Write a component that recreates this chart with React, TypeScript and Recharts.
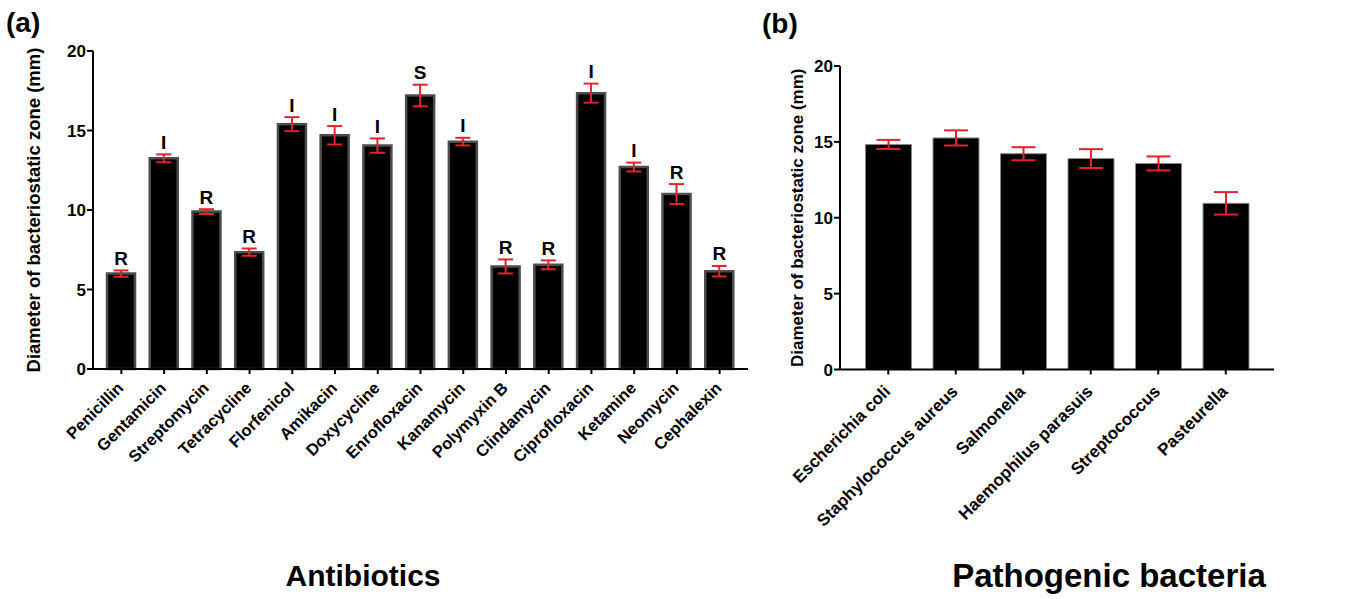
import { Bar, BarChart, ErrorBar, LabelList, XAxis, YAxis } from "recharts"

const antibiotics = [
  "Penicillin",
  "Gentamicin",
  "Streptomycin",
  "Tetracycline",
  "Florfenicol",
  "Amikacin",
  "Doxycycline",
  "Enrofloxacin",
  "Kanamycin",
  "Polymyxin B",
  "Clindamycin",
  "Ciprofloxacin",
  "Ketamine",
  "Neomycin",
  "Cephalexin"
]
const antibioticMeans = [6.0, 13.25, 9.9, 7.35, 15.4, 14.7, 14.05, 17.2, 14.3, 6.45, 6.55, 17.35, 12.7, 11.0, 6.15]
const antibioticErrors = [0.2, 0.25, 0.15, 0.23, 0.44, 0.58, 0.45, 0.68, 0.24, 0.44, 0.28, 0.6, 0.28, 0.63, 0.33]
const antibioticGrades = ["R", "I", "R", "R", "I", "I", "I", "S", "I", "R", "R", "I", "I", "R", "R"]

const bacteria = [
  "Escherichia coli",
  "Staphylococcus aureus",
  "Salmonella",
  "Haemophilus parasuis",
  "Streptococcus",
  "Pasteurella"
]
const bacteriaMeans = [14.83, 15.26, 14.22, 13.9, 13.58, 10.95]
const bacteriaErrors = [0.3, 0.5, 0.43, 0.62, 0.46, 0.74]

const yTicks = [0, 5, 10, 15, 20]

const FONT = "'Liberation Sans', Arial, sans-serif"
const RED = "#e8202a"

const antibioticData = antibiotics.map((name, i) => ({
  name,
  value: antibioticMeans[i],
  err: antibioticErrors[i],
  grade: antibioticGrades[i]
}))

const bacteriaData = bacteria.map((name, i) => ({
  name,
  value: bacteriaMeans[i],
  err: bacteriaErrors[i]
}))

type TickProps = {
  x?: number
  y?: number
  payload?: { value: string }
}

// slanted category labels, end of the text sits under the tick
function makeSlantTick(fontSize: number, dy: number) {
  return function SlantTick({ x = 0, y = 0, payload }: TickProps) {
    const tx = x + 3
    const ty = y + dy
    return (
      <text
        x={tx}
        y={ty}
        transform={`rotate(-45, ${tx}, ${ty})`}
        textAnchor="end"
        fontFamily={FONT}
        fontWeight="bold"
        fontSize={fontSize}
        fill="#000"
      >
        {payload?.value}
      </text>
    )
  }
}

type LabelBox = {
  viewBox?: { x: number; y: number; width: number; height: number }
}

function makeYLabel(offset: number, fontSize: number) {
  return function YLabel({ viewBox }: LabelBox) {
    if (!viewBox) return null
    const cx = viewBox.x + offset
    const cy = viewBox.y + viewBox.height / 2
    return (
      <text
        x={cx}
        y={cy}
        transform={`rotate(-90, ${cx}, ${cy})`}
        textAnchor="middle"
        fontFamily={FONT}
        fontWeight="bold"
        fontSize={fontSize}
        fill="#000"
      >
        Diameter of bacteriostatic zone (mm)
      </text>
    )
  }
}

type GradeProps = {
  x?: number
  y?: number
  width?: number
  height?: number
  value?: string
  index?: number
}

// R / I / S letter just above the error bar cap
function GradeLabel({ x = 0, y = 0, width = 0, height = 0, value, index = 0 }: GradeProps) {
  const errPx = (antibioticErrors[index] * height) / antibioticMeans[index]
  return (
    <text
      x={x + width / 2}
      y={y - errPx - 5.5}
      textAnchor="middle"
      fontFamily={FONT}
      fontWeight="bold"
      fontSize={19}
      fill="#000"
    >
      {value}
    </text>
  )
}

const tickStyle = { fill: "#000", fontSize: 17, fontWeight: "bold", fontFamily: FONT }

export default function App() {
  return (
    <div style={{ position: "absolute", left: 0, top: 0, width: 1357, height: 599, background: "#fff" }}>
      <div style={{ position: "absolute", left: 0, top: 0 }}>
        <BarChart
          width={760}
          height={599}
          data={antibioticData}
          margin={{ top: 51, right: 12, bottom: 200, left: 0 }}
        >
          <XAxis
            dataKey="name"
            interval={0}
            padding={{ left: 7, right: 7 }}
            height={30}
            tickSize={5}
            tickMargin={2}
            axisLine={{ stroke: "#000", strokeWidth: 2 }}
            tickLine={{ stroke: "#000", strokeWidth: 2 }}
            tick={makeSlantTick(16.5, 13)}
          />
          <YAxis
            width={93}
            domain={[0, 20]}
            ticks={yTicks}
            tickSize={6}
            tickMargin={1}
            axisLine={{ stroke: "#000", strokeWidth: 2 }}
            tickLine={{ stroke: "#000", strokeWidth: 2 }}
            tick={tickStyle}
            label={{ content: makeYLabel(40, 18.5) }}
          />
          <Bar
            dataKey="value"
            fill="#000"
            stroke="#4d4d4d"
            strokeWidth={2.5}
            barSize={28}
            isAnimationActive={false}
          >
            <ErrorBar dataKey="err" width={7.5} stroke={RED} strokeWidth={2} direction="y" />
            <LabelList dataKey="grade" content={GradeLabel} />
          </Bar>
        </BarChart>
      </div>
      <div style={{ position: "absolute", left: 760, top: 0 }}>
        <BarChart
          width={597}
          height={599}
          data={bacteriaData}
          margin={{ top: 66, right: 83, bottom: 199.5, left: 0 }}
        >
          <XAxis
            dataKey="name"
            interval={0}
            padding={{ left: 14.5, right: 14.5 }}
            height={30}
            tickSize={5}
            tickMargin={2}
            axisLine={{ stroke: "#000", strokeWidth: 2 }}
            tickLine={{ stroke: "#000", strokeWidth: 2 }}
            tick={makeSlantTick(17, 16)}
          />
          <YAxis
            width={80}
            domain={[0, 20]}
            ticks={yTicks}
            tickSize={6}
            tickMargin={1}
            axisLine={{ stroke: "#000", strokeWidth: 2 }}
            tickLine={{ stroke: "#000", strokeWidth: 2 }}
            tick={tickStyle}
            label={{ content: makeYLabel(43, 17) }}
          />
          <Bar
            dataKey="value"
            fill="#000"
            stroke="#8a8a8a"
            strokeWidth={1}
            barSize={46}
            isAnimationActive={false}
          >
            <ErrorBar dataKey="err" width={12} stroke={RED} strokeWidth={2} direction="y" />
          </Bar>
        </BarChart>
      </div>
      <svg
        width={1357}
        height={599}
        style={{ position: "absolute", left: 0, top: 0, pointerEvents: "none" }}
      >
        <g fontFamily={FONT} fontWeight="bold" fill="#000">
          <text x={6} y={32} fontSize={28}>(a)</text>
          <text x={762} y={33} fontSize={28}>(b)</text>
          <text x={363} y={586} fontSize={30} textAnchor="middle">Antibiotics</text>
          <text x={1109} y={587} fontSize={33} textAnchor="middle">Pathogenic bacteria</text>
        </g>
      </svg>
    </div>
  )
}
